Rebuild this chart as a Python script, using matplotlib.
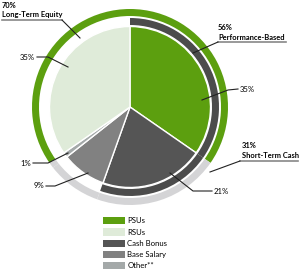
import matplotlib
matplotlib.use("Agg")
import matplotlib.pyplot as plt
from matplotlib.patches import Patch

# ---- data ----
slices = ["PSUs", "Cash Bonus", "Base Salary", "Other**", "RSUs"]
slice_values = [35, 21, 9, 1, 35]
slice_labels = ["35%", "21%", "9%", "1%", "35%"]
legend_order = ["PSUs", "RSUs", "Cash Bonus", "Base Salary", "Other**"]
# group membership of each slice
long_term_equity = [True, False, False, False, True]
performance_based = [True, True, False, False, False]
group_labels = {"lte": ("70%", "Long-Term Equity"),
                "perf": ("56%", "Performance-Based"),
                "stc": ("31%", "Short-Term Cash")}

colors = {"PSUs": "#5c9f0f", "RSUs": "#dfebd9", "Cash Bonus": "#555555",
          "Base Salary": "#818181", "Other**": "#a4a9a9"}
GREEN = "#5c9f0f"
LIGHT = "#d4d4d6"
DARK = "#4c4c4c"

plt.rcParams['font.family'] = ['Lato', 'DejaVu Sans']

fig = plt.figure(figsize=(3.0, 2.71), dpi=100)
ax = fig.add_axes([0, 0, 1, 1])
cx, cy = 130, 107

# outer ring: long-term equity vs short-term cash
outer_cols = [GREEN if g else LIGHT for g in long_term_equity]
ax.pie(slice_values, colors=outer_cols, center=(cx, cy), radius=98,
       startangle=-90, counterclock=True, frame=True,
       wedgeprops=dict(width=7, linewidth=0))
# inner ring: performance-based
inner_cols = [DARK if g else "none" for g in performance_based]
ax.pie(slice_values, colors=inner_cols, center=(cx, cy), radius=89,
       startangle=-90, counterclock=True, frame=True,
       wedgeprops=dict(width=7, linewidth=0))
# main pie
ax.pie(slice_values, colors=[colors[s] for s in slices], center=(cx, cy),
       radius=80.5, startangle=-90, counterclock=True, frame=True,
       wedgeprops=dict(edgecolor="white", linewidth=1.0))

ax.set_xlim(0, 300)
ax.set_ylim(271, 0)
ax.set_aspect('auto')
ax.axis('off')

fs = 5.6
fsb = 5.4
lc = "#222222"
# group labels with underline and leader
ax.text(2, 5, group_labels["lte"][0], fontsize=fsb, fontweight='bold', va='center', ha='left')
ax.text(2, 14, group_labels["lte"][1], fontsize=fsb, fontweight='bold', va='center', ha='left')
ax.plot([2, 62], [20, 20], color="#888888", lw=1.2)
ax.plot([62, 80], [20, 38], color=lc, lw=0.8)

ax.text(218, 28, group_labels["perf"][0], fontsize=fsb, fontweight='bold', va='center', ha='left')
ax.text(218, 37, group_labels["perf"][1], fontsize=fsb, fontweight='bold', va='center', ha='left')
ax.plot([218, 286], [42, 42], color="#888888", lw=1.2)
ax.plot([218, 193], [42, 53], color=lc, lw=0.8)

ax.text(242, 146, group_labels["stc"][0], fontsize=fsb, fontweight='bold', va='center', ha='left')
ax.text(242, 155, group_labels["stc"][1], fontsize=fsb, fontweight='bold', va='center', ha='left')
ax.plot([240, 298], [161, 161], color="#888888", lw=1.2)
ax.plot([240, 210], [161, 172], color=lc, lw=0.8)

# slice labels with leaders
# PSUs
ax.plot([202, 228, 238], [100, 90, 89], color=lc, lw=0.8)
ax.text(240, 89, slice_labels[0], fontsize=fs, va='center', ha='left')
# RSUs
ax.plot([37, 48, 68], [57, 57, 67], color=lc, lw=0.8)
ax.text(35, 57, slice_labels[4], fontsize=fs, va='center', ha='right')
# Other
ax.plot([33, 48, 68], [163, 163, 153], color=lc, lw=0.8)
ax.text(31, 163, slice_labels[3], fontsize=fs, va='center', ha='right')
# Base Salary
ax.plot([46, 55, 88], [186, 186, 173], color=lc, lw=0.8)
ax.text(44, 186, slice_labels[2], fontsize=fs, va='center', ha='right')
# Cash Bonus
ax.plot([212, 193, 170], [191, 191, 173], color=lc, lw=0.8)
ax.text(214, 191, slice_labels[1], fontsize=fs, va='center', ha='left')

handles = [Patch(facecolor=colors[s], edgecolor='none', label=s) for s in legend_order]
ax.legend(handles=handles, loc='upper left', bbox_to_anchor=(103 / 300, 1 - 217 / 271),
          frameon=False, fontsize=fs, handlelength=2.85, handleheight=1.05,
          handletextpad=0.28, labelspacing=0.52, borderpad=0, borderaxespad=0)

fig.savefig("out.png", dpi=100)
